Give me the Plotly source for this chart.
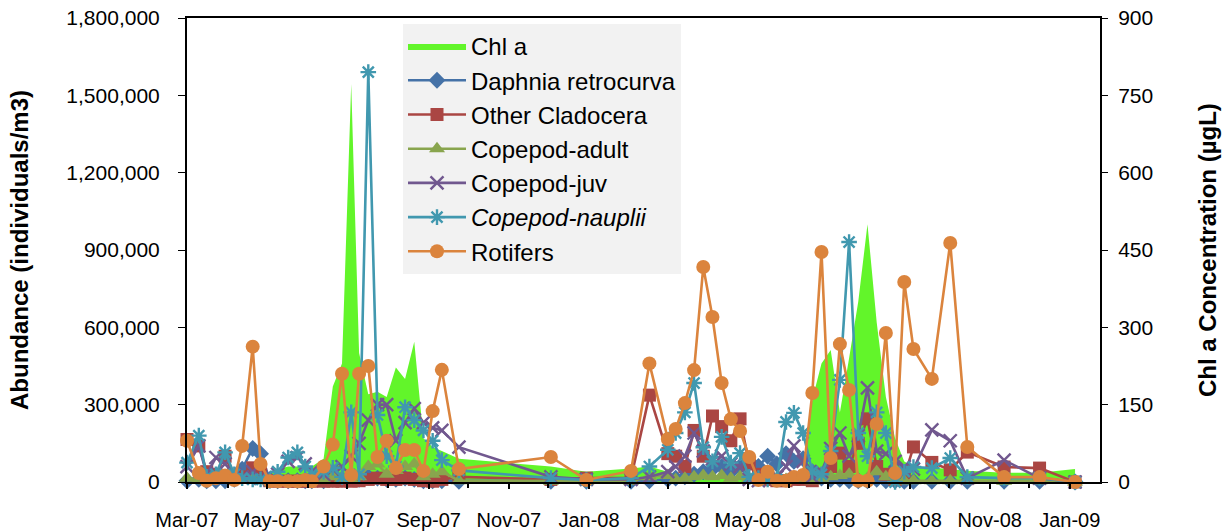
import plotly.graph_objects as go

# Sampling dates
dates = [
    "2007-03-01", "2007-03-10", "2007-03-16", "2007-03-23", "2007-03-30",
    "2007-04-06", "2007-04-12", "2007-04-20", "2007-04-26",
    "2007-05-03", "2007-05-09", "2007-05-17", "2007-05-24", "2007-05-30",
    "2007-06-04", "2007-06-13", "2007-06-20", "2007-06-27",
    "2007-07-04", "2007-07-10", "2007-07-17", "2007-07-24", "2007-07-31",
    "2007-08-07", "2007-08-14", "2007-08-21", "2007-08-28",
    "2007-09-04", "2007-09-11", "2007-09-24", "2007-12-03", "2007-12-30",
    "2008-02-02", "2008-02-16",
    "2008-03-01", "2008-03-07", "2008-03-14", "2008-03-21", "2008-03-28",
    "2008-04-04", "2008-04-11", "2008-04-18", "2008-04-25",
    "2008-05-02", "2008-05-09", "2008-05-16", "2008-05-23", "2008-05-30",
    "2008-06-05", "2008-06-12", "2008-06-19", "2008-06-26",
    "2008-07-03", "2008-07-10", "2008-07-17", "2008-07-24", "2008-07-31",
    "2008-08-07", "2008-08-14", "2008-08-21", "2008-08-28",
    "2008-09-04", "2008-09-18", "2008-10-02", "2008-10-15",
    "2008-11-12", "2008-12-09", "2009-01-05",
]

# Chlorophyll a (µg/L)
chl_a = [
    5, 5, 5, 5, 5,
    5, 5, 5, 8,
    15, 25, 30, 30, 28,
    30, 45, 185, 230,
    772, 250, 170, 175, 165,
    222, 200, 272, 85,
    68, 60, 45, 30, 20,
    26, 30,
    20, 15, 15, 12, 12,
    10, 10, 10, 10,
    10, 10, 10, 10, 10,
    12, 20, 160, 230,
    256, 135, 240, 350, 500,
    310, 165, 85, 40,
    30, 28, 25, 22,
    18, 18, 25,
]

# Abundances (individuals/m3)
daphnia = [
    5000, 10000, 5000, 5000, 5000,
    10000, 50000, 130000, 110000,
    10000, 5000, 5000, 5000, 5000,
    5000, 5000, 10000, 10000,
    15000, 10000, 20000, 15000, 10000,
    10000, 15000, 10000, 5000,
    5000, 5000, 3000, 3000, 3000,
    3000, 5000,
    10000, 15000, 20000, 30000, 40000,
    50000, 60000, 40000, 60000,
    80000, 60000, 100000, 70000, 110000,
    80000, 90000, 40000, 15000,
    10000, 10000, 5000, 5000, 5000,
    10000, 5000, 5000, 3000,
    3000, 3000, 3000, 3000,
    3000, 3000, 0,
]

other_cladocera = [
    165000, 140000, 40000, 30000, 100000,
    20000, 20000, 55000, 30000,
    5000, 3000, 3000, 3000, 3000,
    3000, 3000, 3000, 3000,
    3000, 5000, 10000, 15000, 10000,
    10000, 15000, 10000, 5000,
    3000, 10000, 20000, 10000, 15000,
    15000, 337000,
    110000, 100000, 60000, 200000, 100000,
    256000, 215000, 160000, 245000,
    70000, 30000, 10000, 5000, 5000,
    10000, 10000, 5000, 30000,
    60000, 112000, 60000, 150000, 245000,
    60000, 30000, 10000, 20000,
    136000, 76000, 47000, 116000,
    58000, 54000, 0,
]

copepod_adult = [
    15000, 10000, 5000, 10000, 10000,
    5000, 10000, 15000, 8000,
    3000, 3000, 5000, 5000, 5000,
    5000, 10000, 20000, 15000,
    10000, 20000, 60000, 70000, 30000,
    45000, 60000, 70000, 20000,
    30000, 40000, 5000, 3000, 3000,
    3000, 20000,
    25000, 10000, 15000, 20000, 25000,
    20000, 25000, 15000, 20000,
    15000, 10000, 10000, 15000, 10000,
    10000, 10000, 5000, 15000,
    20000, 25000, 30000, 10000, 15000,
    40000, 20000, 5000, 5000,
    5000, 5000, 5000, 5000,
    3000, 5000, 0,
]

copepod_juv = [
    60000, 140000, 30000, 95000, 70000,
    30000, 20000, 40000, 15000,
    10000, 30000, 80000, 95000, 70000,
    40000, 30000, 50000, 60000,
    100000, 150000, 240000, 300000, 300000,
    160000, 230000, 285000, 230000,
    210000, 200000, 135000, 20000, 10000,
    10000, 20000,
    40000, 60000, 100000, 190000, 120000,
    90000, 100000, 70000, 60000,
    10000, 5000, 15000, 20000, 60000,
    140000, 80000, 20000, 40000,
    130000, 190000, 100000, 180000, 365000,
    120000, 110000, 80000, 60000,
    50000, 202000, 160000, 15000,
    85000, 15000, 0,
]

copepod_nauplii = [
    75000, 180000, 20000, 30000, 115000,
    30000, 15000, 10000, 10000,
    5000, 40000, 95000, 115000, 60000,
    30000, 40000, 55000, 20000,
    270000, 30000, 1590000, 260000, 100000,
    60000, 290000, 240000, 200000,
    160000, 85000, 45000, 15000, 8000,
    15000, 60000,
    125000, 190000, 270000, 384000, 135000,
    80000, 175000, 75000, 112000,
    20000, 15000, 10000, 10000, 233000,
    268000, 190000, 40000, 30000,
    120000, 396000, 931000, 190000, 100000,
    270000, 190000, 0, 40000,
    58000, 54000, 93000, 19000,
    15000, 15000, 0,
]

rotifers = [
    160000, 35000, 5000, 15000, 25000,
    8000, 140000, 525000, 70000,
    3000, 3000, 3000, 3000, 8000,
    3000, 60000, 145000, 420000,
    27000, 420000, 450000, 97000, 160000,
    54000, 124000, 124000, 43000,
    275000, 435000, 50000, 97000, 8000,
    43000, 460000,
    167000, 206000, 306000, 434000, 834000,
    640000, 384000, 244000, 198000,
    97000, 8000, 40000, 5000, 5000,
    19000, 27000, 345000, 892000,
    93000, 535000, 357000, 5000, 5000,
    225000, 578000, 35000, 776000,
    516000, 400000, 927000, 136000,
    19000, 19000, 0,
]

FONT = "Liberation Sans, Arial, sans-serif"

series = [
    ("Daphnia retrocurva", daphnia, "#4572A7", dict(symbol="diamond", size=13)),
    ("Other Cladocera", other_cladocera, "#AA4643", dict(symbol="square", size=13)),
    ("Copepod-adult", copepod_adult, "#89A54E", dict(symbol="triangle-up", size=14)),
    ("Copepod-juv", copepod_juv, "#71588F", dict(symbol="x-thin-open", size=13, line=dict(width=2.4, color="#71588F"))),
    ("<i>Copepod-nauplii</i>", copepod_nauplii, "#4198AF", dict(symbol="asterisk-open", size=13, line=dict(width=2.4, color="#4198AF"))),
    ("Rotifers", rotifers, "#DB843D", dict(symbol="circle", size=14)),
]

fig = go.Figure()

# Chlorophyll area on the right-hand axis (drawn beneath the abundance lines)
fig.add_trace(go.Scatter(
    x=dates, y=chl_a, name="Chl a", mode="lines",
    line=dict(width=0, color="#62F52A"), fill="tozeroy", fillcolor="#62F52A",
    yaxis="y",
))

for name, vals, color, marker in series:
    m = dict(color=color)
    m.update(marker)
    fig.add_trace(go.Scatter(
        x=dates, y=vals, name=name, mode="lines+markers",
        line=dict(color=color, width=2.6), marker=m,
        yaxis="y2", cliponaxis=False,
    ))

for i, tr in enumerate(fig.data):
    tr.legendgroup = "g%d" % i

fig.update_layout(
    width=1227, height=531,
    margin=dict(l=187, r=127, t=18, b=49, autoexpand=False),
    paper_bgcolor="white", plot_bgcolor="white",
    font=dict(family=FONT, size=21, color="black"),
    showlegend=True,
    legend=dict(
        x=(403 - 187) / 913, y=(482 - 24) / 464, xanchor="left", yanchor="top",
        bgcolor="#F2F2F2", font=dict(size=24, family=FONT),
        itemwidth=58, tracegroupgap=0, traceorder="grouped",
    ),
    xaxis=dict(
        type="date", range=["2007-03-01", "2009-01-24"],
        tick0="2007-03-01", dtick="M2", tickformat="%b-%y",
        ticks="outside", ticklen=5, tickwidth=1.5, tickcolor="black",
        minor=dict(dtick="M1", ticks="outside", ticklen=4, tickcolor="black"),
        showline=True, linecolor="black", linewidth=2, mirror=True,
        showgrid=False, zeroline=False, ticklabelstandoff=14, automargin=False,
        tickfont=dict(size=20, family=FONT),
    ),
    yaxis=dict(
        range=[0, 900], dtick=150, side="right",
        showline=True, linecolor="black", linewidth=2,
        ticks="outside", ticklen=6, tickcolor="black",
        showgrid=False, zeroline=False, ticklabelstandoff=6, automargin=False,
        tickfont=dict(size=21, family=FONT),
    ),
    yaxis2=dict(
        range=[0, 1800000], dtick=300000, tickformat=",d",
        overlaying="y", side="left", anchor="x",
        showline=True, linecolor="black", linewidth=2,
        ticks="outside", ticklen=7, tickcolor="black",
        showgrid=False, zeroline=False, ticklabelstandoff=14, automargin=False,
        tickfont=dict(size=21, family=FONT),
    ),
    annotations=[
        dict(text="<b>Abundance (individuals/m3)</b>", textangle=-90,
             xref="paper", yref="paper", x=(19 - 187) / 913, y=0.5, xanchor="center",
             showarrow=False, font=dict(size=24, family=FONT)),
        dict(text="<b>Chl a Concentration (µgL)</b>", textangle=-90,
             xref="paper", yref="paper", x=(1207 - 187) / 913, y=0.5, xanchor="center",
             showarrow=False, font=dict(size=24, family=FONT)),
    ],
)

fig.write_html("out.html")
